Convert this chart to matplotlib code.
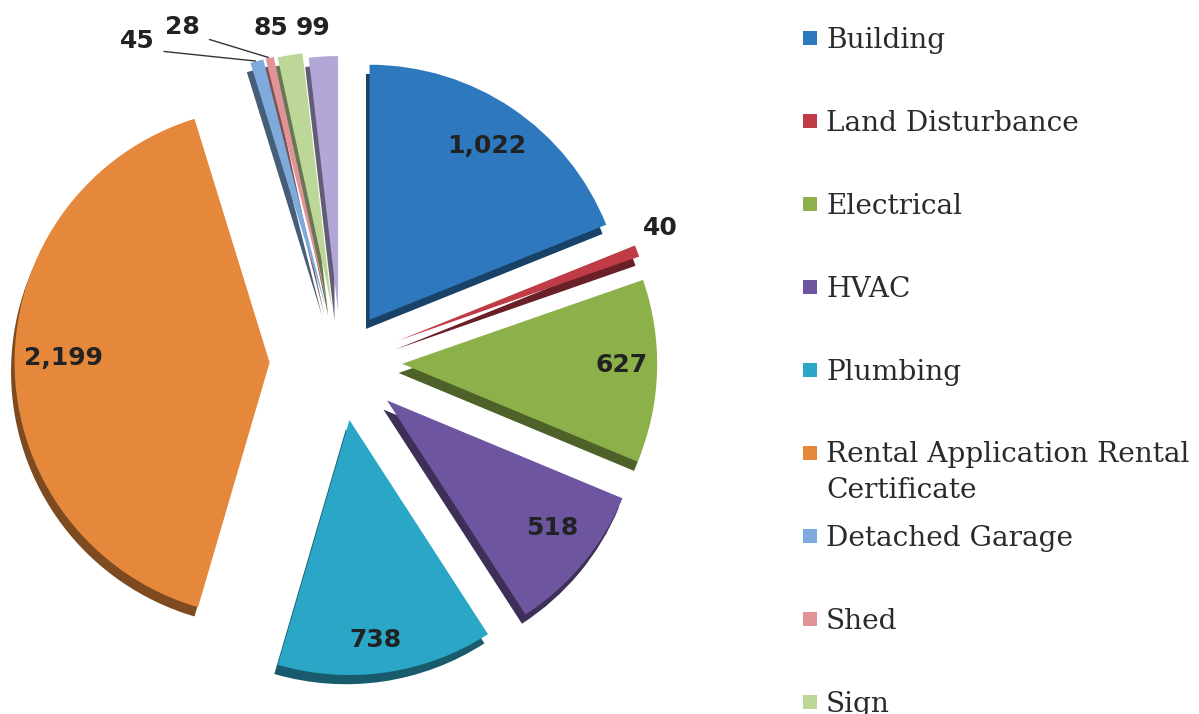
import matplotlib
matplotlib.use('Agg')
import matplotlib.pyplot as plt
import numpy as np
from matplotlib.patches import Rectangle
from matplotlib.colors import to_rgb

# ---- data ----
categories = ["Building", "Land Disturbance", "Electrical", "HVAC", "Plumbing",
              "Rental Application Rental\nCertificate", "Detached Garage", "Shed",
              "Sign", "Other"]
values = [1022, 40, 627, 518, 738, 2199, 45, 28, 85, 99]
value_labels = ["1,022", "40", "627", "518", "738", "2,199", "45", "28", "85", "99"]

# ---- style ----
colors = ['#2e78be', '#bf3b45', '#8cb04a', '#6e55a0', '#2aa6c6',
          '#e5883b', '#7fabdc', '#e09498', '#bcd798', '#b2a7d6']
explode = [0.20, 0.24, 0.24, 0.235, 0.23, 0.28, 0.225, 0.225, 0.22, 0.20]
label_r = [1.022, 1.357, 1.102, 1.053, 1.098, 1.09, 1.492, 1.453, 1.338, 1.315]
label_dang = [0.0, 2.2, 1.1, 1.65, -1.3, -1.2, 16.8, 12.1, 2.4, 1.5]
leader = [False, False, False, False, False, False, True, True, False, False]

W, H = 1199, 714
fig = plt.figure(figsize=(W / 100, H / 100), dpi=100)
fig.patch.set_facecolor('white')

# legend axes in pixel coordinates
lax = fig.add_axes([0, 0, 1, 1], zorder=0)
lax.set_xlim(0, W)
lax.set_ylim(H, 0)
lax.axis('off')

# pie axes
cx, cy, half = 341, 362, 360
ax = fig.add_axes([(cx - half) / W, (H - cy - half) / H, 2 * half / W, 2 * half / H], zorder=1)

dark = [tuple(c * 0.55 for c in to_rgb(col)) for col in colors]
ax.pie(values, explode=explode, colors=dark, startangle=90, counterclock=False,
       radius=1.0, center=(-0.014, -0.036), wedgeprops=dict(linewidth=0), frame=False)
wedges, _ = ax.pie(values, explode=explode, colors=colors, startangle=90, counterclock=False,
                   radius=1.0, center=(0, 0), wedgeprops=dict(linewidth=0), frame=False)
lim = half / 255.0
ax.set_xlim(-lim, lim)
ax.set_ylim(-lim, lim)
ax.set_aspect('equal')
ax.axis('off')

for i, w in enumerate(wedges):
    mid = 0.5 * (w.theta1 + w.theta2)
    ang = np.deg2rad(mid + label_dang[i])
    lx, ly = label_r[i] * np.cos(ang), label_r[i] * np.sin(ang)
    if leader[i]:
        tip = ((1 + explode[i]) * np.cos(np.deg2rad(mid)),
               (1 + explode[i]) * np.sin(np.deg2rad(mid)))
        ax.annotate(value_labels[i], xy=tip, xytext=(lx, ly), ha='center', va='center',
                    fontsize=18, fontweight='bold', color='#222222', family='DejaVu Sans',
                    arrowprops=dict(arrowstyle='-', color='#333333', lw=1.0,
                                    relpos=(1.0, 0.1), shrinkA=5, shrinkB=1))
    else:
        ax.text(lx, ly, value_labels[i], ha='center', va='center', fontsize=18,
                fontweight='bold', color='#222222', family='DejaVu Sans')

# manual legend
line_gap = 35
for i, (name, col) in enumerate(zip(categories, colors)):
    yc = 38 + 83 * i
    nlines = name.count('\n')
    lax.add_patch(Rectangle((803, yc - 7), 14, 14, facecolor=col, edgecolor='none'))
    lax.text(826, yc + 10 + nlines * line_gap, name, ha='left', va='baseline', fontsize=20.2,
             family='DejaVu Serif', color='#2a2a2a', linespacing=1.44)

fig.savefig('out.png', dpi=100, facecolor='white')
